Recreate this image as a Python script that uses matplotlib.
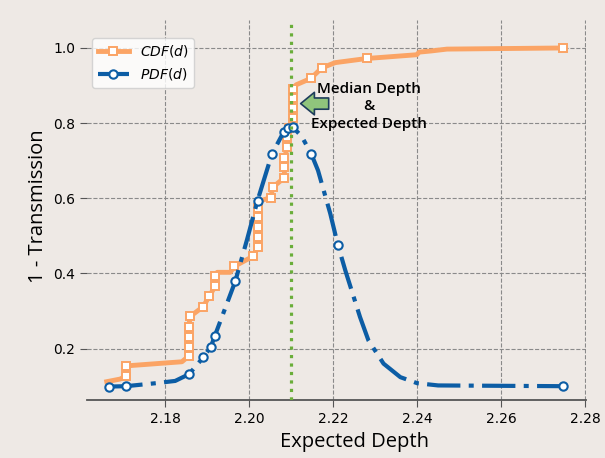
import matplotlib.pyplot as plt

# CDF(d) path; marked points carry a square marker
cdf_x = [2.1661, 2.1693, 2.1707, 2.1707, 2.1840, 2.1856, 2.1856, 2.1856, 2.1856,
         2.1860, 2.1890, 2.1905, 2.1919, 2.1919, 2.1924, 2.1955, 2.1965, 2.2010,
         2.2020, 2.2020, 2.2020, 2.2020, 2.2020, 2.2023, 2.2052, 2.2056, 2.2084,
         2.2084, 2.2084, 2.2091, 2.2091, 2.2096, 2.2104, 2.2104, 2.2104, 2.2104,
         2.2112, 2.2147, 2.2173, 2.2205, 2.2280, 2.2399, 2.2405, 2.2433, 2.2471,
         2.2748]
cdf_y = [0.112, 0.119, 0.127, 0.154, 0.165, 0.180, 0.205, 0.232, 0.258,
         0.286, 0.311, 0.339, 0.366, 0.393, 0.403, 0.403, 0.419, 0.446,
         0.470, 0.497, 0.524, 0.549, 0.575, 0.592, 0.602, 0.629, 0.655,
         0.682, 0.707, 0.736, 0.762, 0.788, 0.814, 0.840, 0.866, 0.891,
         0.902, 0.919, 0.947, 0.961, 0.972, 0.982, 0.989, 0.992, 0.997,
         1.000]
cdf_marked = [0, 0, 1, 1, 0, 1, 1, 1, 1,
              1, 1, 1, 1, 1, 0, 0, 1, 1,
              1, 1, 1, 1, 1, 0, 1, 1, 1,
              1, 1, 1, 1, 1, 1, 1, 1, 1,
              0, 1, 1, 0, 1, 0, 0, 0, 0,
              1]

# PDF(d) curve; marked points carry a circle marker
pdf_x = [2.1667, 2.1707, 2.1778, 2.1824, 2.1857, 2.1891, 2.1909, 2.1918, 2.1967,
         2.1995, 2.2020, 2.2054, 2.2082, 2.2093, 2.2104, 2.2125, 2.2148, 2.2164,
         2.2193, 2.2211, 2.2229, 2.2264, 2.2284, 2.2320, 2.2360, 2.2400, 2.2450,
         2.2748]
pdf_y = [0.099, 0.100, 0.108, 0.114, 0.132, 0.177, 0.205, 0.233, 0.379,
         0.490, 0.594, 0.717, 0.776, 0.788, 0.789, 0.765, 0.718, 0.674,
         0.560, 0.477, 0.408, 0.284, 0.222, 0.160, 0.124, 0.108, 0.102,
         0.100]
pdf_marked = [1, 1, 0, 0, 1, 1, 1, 1, 1,
              0, 1, 1, 1, 1, 1, 0, 1, 0,
              0, 1, 0, 0, 0, 0, 0, 0, 0,
              1]

median_depth = 2.2100

bg = '#EEE9E5'
orange = '#FBA465'
blue = '#0C5DA5'
green = '#6AAE3A'

fig = plt.figure(figsize=(6.05, 4.58), dpi=100, facecolor=bg)
ax = fig.add_axes([0.1438, 0.1266, 0.8248, 0.8297], facecolor=bg)

ax.plot(cdf_x, cdf_y, color=orange, lw=3.5, marker='s', markersize=5.2,
        markerfacecolor='white', markeredgecolor=orange, markeredgewidth=1.4,
        markevery=[i for i, m in enumerate(cdf_marked) if m],
        label='$CDF(d)$', zorder=3)
ax.plot(pdf_x, pdf_y, color=blue, lw=3, dashes=(8, 2, 1.2, 2), marker='o',
        markersize=6, markerfacecolor='white', markeredgecolor=blue,
        markeredgewidth=1.5, markevery=[i for i, m in enumerate(pdf_marked) if m],
        label='$PDF(d)$', zorder=4)
ax.axvline(median_depth, color=green, lw=2.3, ls=':', zorder=5)

ax.annotate('', xy=(2.2116, 0.852), xytext=(2.2196, 0.852),
            arrowprops=dict(arrowstyle='simple,head_length=0.55,head_width=0.9,tail_width=0.45',
                            mutation_scale=18, fc='#90C47C', ec='#1E3D5C', lw=1.2),
            zorder=6)
ax.text(2.2286, 0.845, 'Median Depth\n&\nExpected Depth', ha='center', va='center',
        fontsize=11, family='Open Sans', weight='semibold', linespacing=1.3, zorder=6)

ax.set_xlim(2.1614, 2.2802)
ax.set_ylim(0.0632, 1.0744)
ax.set_xticks([2.18, 2.20, 2.22, 2.24, 2.26, 2.28])
ax.set_yticks([0.2, 0.4, 0.6, 0.8, 1.0])
ax.grid(True, ls='--', color='#8a8a8a', lw=0.8)
ax.set_axisbelow(True)
for s in ['left', 'top', 'right']:
    ax.spines[s].set_visible(False)
ax.spines['bottom'].set_color('#555555')
ax.spines['bottom'].set_linewidth(1.3)
ax.tick_params(labelsize=10, length=5, color='#555555')

ax.set_xlabel('Expected Depth', fontsize=14.5, family='Open Sans')
ax.set_ylabel('1 - Transmission', fontsize=14.5, family='Open Sans')
ax.xaxis.set_label_coords(0.537, -0.085)
ax.yaxis.set_label_coords(-0.078, 0.51)

ax.legend(loc='upper left', bbox_to_anchor=(0.011, 0.953), borderaxespad=0,
          fontsize=10, handlelength=2.2)

fig.savefig('out.png', dpi=100, facecolor=bg)
